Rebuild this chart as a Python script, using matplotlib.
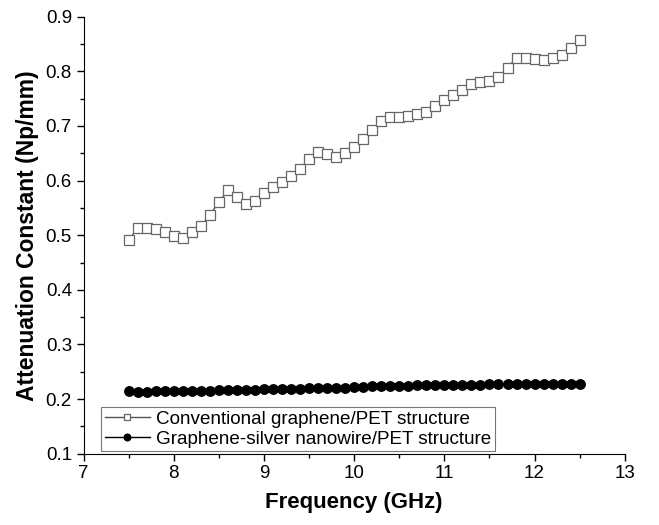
import numpy as np
import matplotlib
matplotlib.use("Agg")
import matplotlib.pyplot as plt
from matplotlib.ticker import MultipleLocator

plt.rcParams['font.family'] = ['Liberation Sans', 'DejaVu Sans']

# frequency points, 7.5 to 12.5 GHz in 0.1 GHz steps
freq = [7.5, 7.6, 7.7, 7.8, 7.9, 8.0, 8.1, 8.2, 8.3, 8.4,
        8.5, 8.6, 8.7, 8.8, 8.9, 9.0, 9.1, 9.2, 9.3, 9.4,
        9.5, 9.6, 9.7, 9.8, 9.9, 10.0, 10.1, 10.2, 10.3, 10.4,
        10.5, 10.6, 10.7, 10.8, 10.9, 11.0, 11.1, 11.2, 11.3, 11.4,
        11.5, 11.6, 11.7, 11.8, 11.9, 12.0, 12.1, 12.2, 12.3, 12.4, 12.5]

# conventional graphene/PET
conv = [0.491, 0.514, 0.513, 0.512, 0.506, 0.499, 0.494, 0.505, 0.516, 0.537,
        0.561, 0.582, 0.570, 0.558, 0.563, 0.577, 0.588, 0.598, 0.609, 0.622,
        0.640, 0.652, 0.649, 0.644, 0.651, 0.662, 0.676, 0.693, 0.710, 0.716,
        0.717, 0.719, 0.722, 0.726, 0.736, 0.747, 0.756, 0.766, 0.777, 0.781,
        0.783, 0.789, 0.807, 0.825, 0.825, 0.822, 0.821, 0.825, 0.830, 0.842, 0.858]

# graphene-silver nanowire/PET
agnw = [0.214, 0.213, 0.213, 0.214, 0.214, 0.214,
        0.214, 0.215, 0.215, 0.215, 0.216, 0.216, 0.217, 0.217, 0.217, 0.218,
        0.218, 0.219, 0.219, 0.219, 0.220, 0.220, 0.220, 0.221, 0.221, 0.222,
        0.222, 0.223, 0.223, 0.224, 0.224, 0.224, 0.225, 0.225, 0.226, 0.226,
        0.225, 0.226, 0.226, 0.226, 0.227, 0.227, 0.227, 0.228, 0.228, 0.228,
        0.228, 0.227, 0.228, 0.228, 0.228]

fig = plt.figure(figsize=(6.59, 5.25), dpi=100)
ax = fig.add_axes([0.127, 0.136, 0.821, 0.832])

ax.plot(freq, conv, color='#555555', lw=1.0, marker='s', ms=7,
        mfc='white', mec='#666666', mew=0.9, label='Conventional graphene/PET structure')
ax.plot(freq, agnw, color='black', lw=1.0, marker='o', ms=6.8,
        mfc='black', mec='black', label='Graphene-silver nanowire/PET structure')

ax.set_xlim(7, 13)
ax.set_ylim(0.1, 0.9)
ax.xaxis.set_major_locator(MultipleLocator(1))
ax.xaxis.set_minor_locator(MultipleLocator(0.5))
ax.yaxis.set_minor_locator(MultipleLocator(0.05))
ax.set_yticks(np.arange(0.1, 0.91, 0.1))
ax.set_yticklabels(['0.1', '0.2', '0.3', '0.4', '0.5', '0.6', '0.7', '0.8', '0.9'])

for s in ['top', 'right']:
    ax.spines[s].set_visible(False)
ax.tick_params(which='major', direction='out', length=5, width=1, labelsize=13.5)
ax.tick_params(which='minor', direction='out', length=3, width=1)

ax.set_xlabel('Frequency (GHz)', fontsize=16, fontweight='bold', labelpad=7)
ax.set_ylabel('Attenuation Constant (Np/mm)', fontsize=16.5, fontweight='bold', labelpad=5)

leg = ax.legend(loc='lower left', bbox_to_anchor=(0.032, 0.005), fontsize=13.6,
                frameon=True, fancybox=False, edgecolor='#555555',
                borderpad=0.2, labelspacing=0.15, handlelength=2.4,
                handletextpad=0.3, borderaxespad=0, markerscale=0.7)
leg.get_frame().set_linewidth(0.8)

fig.savefig('out.png', dpi=100)
